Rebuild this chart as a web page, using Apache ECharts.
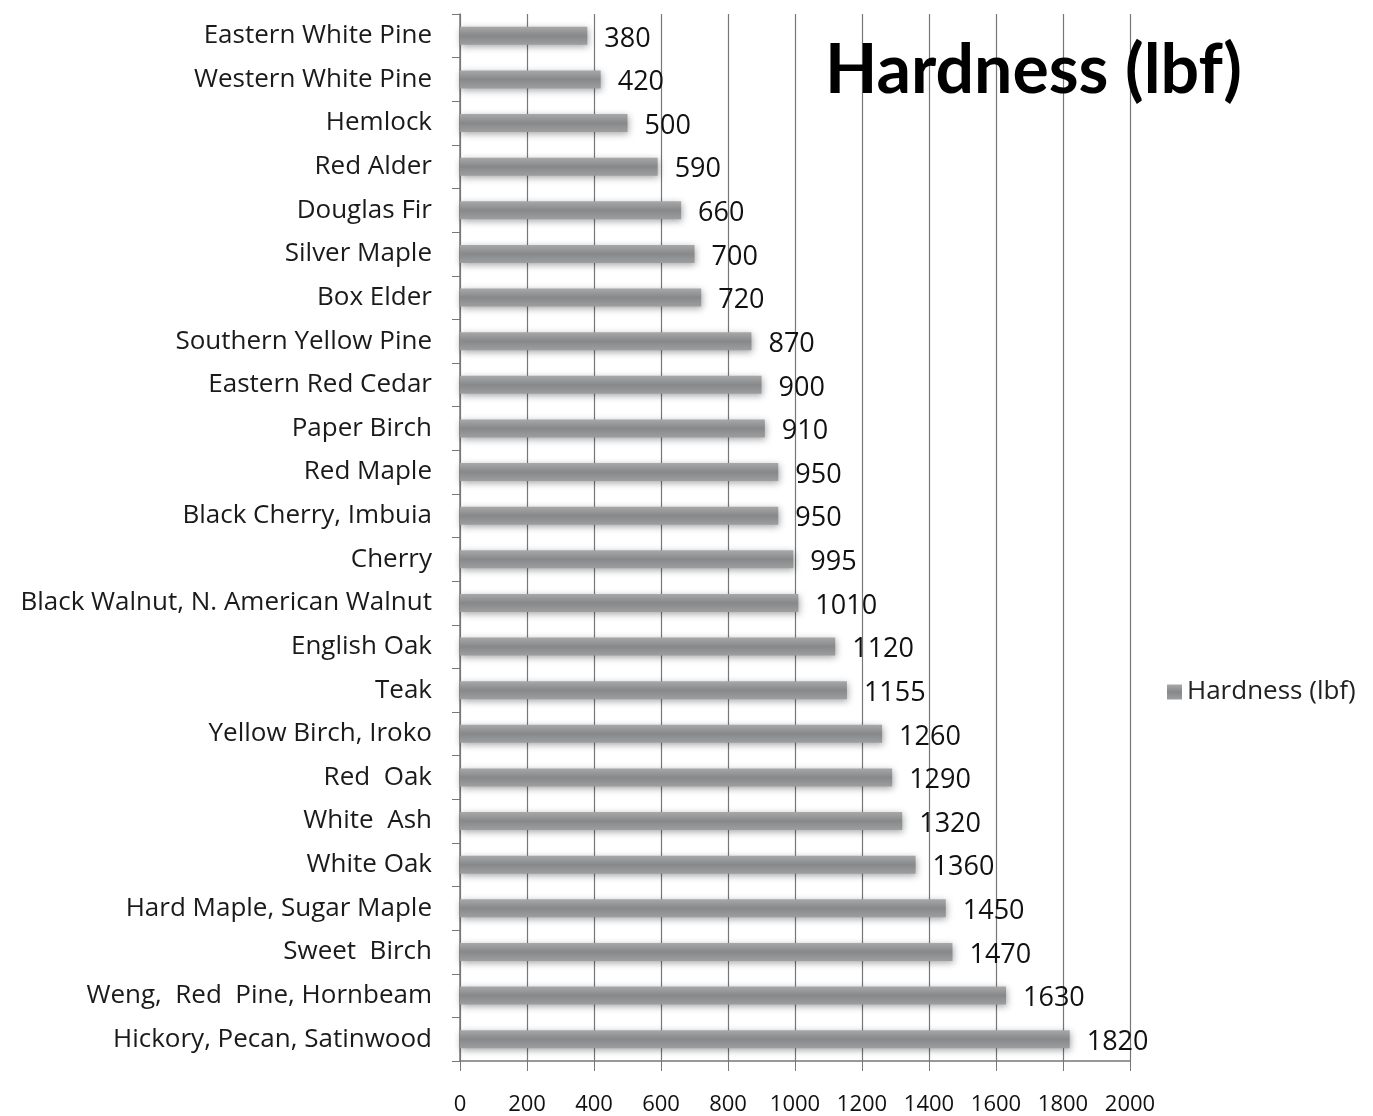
<!DOCTYPE html>
<html lang="en">
<head>
    <meta charset="UTF-8">
    <title>Hardness (lbf)</title>
    <script src="https://cdn.jsdelivr.net/npm/echarts/dist/echarts.min.js"></script>
    <style>
        html, body { margin: 0; padding: 0; background: #fff; }
        #chart { width: 1373px; height: 1116px; }
    </style>
</head>
<body>
    <div id="chart"></div>
    <script>
        // 数据
        var woods = [
            'Eastern White Pine', 'Western White Pine', 'Hemlock', 'Red Alder',
            'Douglas Fir', 'Silver Maple', 'Box Elder', 'Southern Yellow Pine',
            'Eastern Red Cedar', 'Paper Birch', 'Red Maple', 'Black Cherry, Imbuia',
            'Cherry', 'Black Walnut, N. American Walnut', 'English Oak', 'Teak',
            'Yellow Birch, Iroko', 'Red  Oak', 'White  Ash', 'White Oak',
            'Hard Maple, Sugar Maple', 'Sweet  Birch', 'Weng,  Red  Pine, Hornbeam',
            'Hickory, Pecan, Satinwood'
        ];
        var hardness = [380, 420, 500, 590, 660, 700, 720, 870, 900, 910, 950, 950,
            995, 1010, 1120, 1155, 1260, 1290, 1320, 1360, 1450, 1470, 1630, 1820];
        var seriesName = 'Hardness (lbf)';

        var font = '"Open Sans", sans-serif';
        var chart = echarts.init(document.getElementById('chart'));

        var option = {
            animation: false,
            title: {
                text: seriesName,
                left: 820,
                top: 32,
                textStyle: { fontFamily: 'Lato, sans-serif', fontSize: 68, fontWeight: 'bold', color: '#000' }
            },
            legend: {
                data: [seriesName],
                left: 1162,
                top: 674,
                itemWidth: 15,
                itemHeight: 15,
                itemGap: 8,
                icon: 'rect',
                textStyle: { fontFamily: font, fontSize: 26, color: '#222' }
            },
            grid: { left: 460, right: 243, top: 14, bottom: 55 },
            xAxis: {
                type: 'value',
                min: 0,
                max: 2000,
                interval: 200,
                axisLine: { show: true, lineStyle: { color: '#777', width: 1.5 } },
                axisTick: { show: true, length: 10, lineStyle: { color: '#777' } },
                axisLabel: {
                    margin: 33, fontFamily: font, fontSize: 22, color: '#111',
                    formatter: function (v) { return String(v); }
                },
                splitLine: { show: true, lineStyle: { color: '#777', width: 1.2 } }
            },
            yAxis: {
                type: 'category',
                data: woods,
                inverse: true,
                axisLine: { show: true, lineStyle: { color: '#777', width: 1.5 } },
                axisTick: { show: true, inside: false, length: 8, lineStyle: { color: '#777' } },
                axisLabel: { margin: 28, fontFamily: font, fontSize: 26, color: '#1a1a1a' }
            },
            series: [{
                name: seriesName,
                type: 'bar',
                data: hardness,
                barWidth: 18,
                itemStyle: {
                    color: new echarts.graphic.LinearGradient(0, 0, 0, 1, [
                        { offset: 0, color: '#a6a8aa' },
                        { offset: 0.5, color: '#868889' },
                        { offset: 1, color: '#9c9ea0' }
                    ]),
                    shadowBlur: 7,
                    shadowColor: 'rgba(0,0,0,0.35)',
                    shadowOffsetX: 1,
                    shadowOffsetY: 2
                },
                label: {
                    show: true,
                    position: 'right',
                    distance: 17,
                    offset: [0, 3],
                    fontFamily: font,
                    fontSize: 27,
                    color: '#111'
                }
            }]
        };

        chart.setOption(option);
    </script>
</body>
</html>
